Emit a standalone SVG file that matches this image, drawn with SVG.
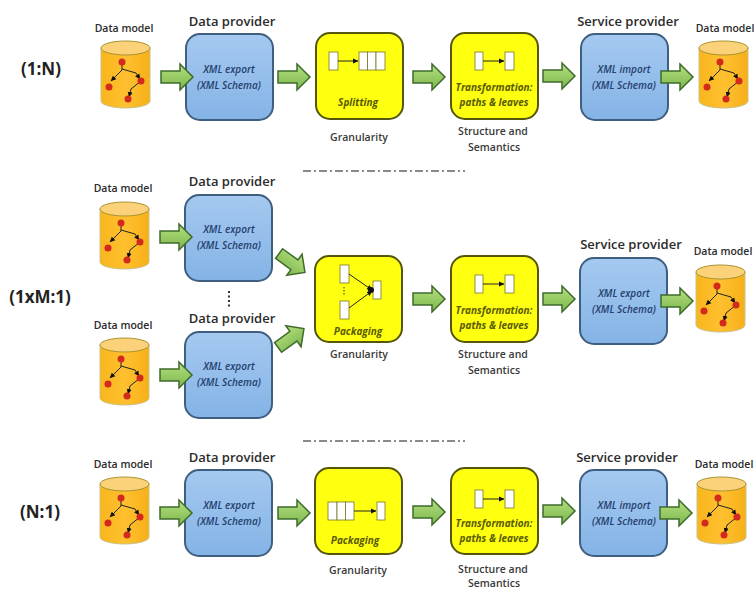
<svg xmlns="http://www.w3.org/2000/svg" xmlns:xlink="http://www.w3.org/1999/xlink" width="754" height="590" viewBox="0 0 754 590">
<style>
text{font-family:"Open Sans","Liberation Sans",sans-serif;text-anchor:middle;fill:#2b2b2b}
.h{font-size:13px;font-weight:600}
.m{font-size:10.500px;font-weight:600}
.g{font-size:10.500px;font-weight:600;fill:#3a3a3a}
.r{font-size:17px;font-weight:700;fill:#222}
.b{font-size:10px;font-style:italic;font-weight:600;fill:#24406e}
.y{font-size:10px;font-style:italic;font-weight:700;fill:#5a5a00}
.sep{stroke:#666;stroke-width:1.500;stroke-dasharray:8 3 2 3;fill:none}
.w{fill:#fff;stroke:#77772a;stroke-width:.8}
.l{stroke:#222;stroke-width:1;fill:none}
.t{stroke:#222;stroke-width:1;fill:none}
</style>
<defs>
<linearGradient id="gb" x1="0" y1="0" x2="0" y2="1"><stop offset="0" stop-color="#a5c9f0"/><stop offset="1" stop-color="#84b3e6"/></linearGradient>
<linearGradient id="gg" x1="0" y1="0" x2="0" y2="1"><stop offset="0" stop-color="#b4e080"/><stop offset="1" stop-color="#7cb64c"/></linearGradient>
<linearGradient id="gc" x1="0" y1="0" x2="1" y2="0"><stop offset="0" stop-color="#f8b61c"/><stop offset=".5" stop-color="#ffc030"/><stop offset="1" stop-color="#f6b018"/></linearGradient>
<marker id="tip" markerWidth="6" markerHeight="6" refX="5" refY="3" orient="auto"><path d="M0 0.500L5.500 3L0 5.500Z" fill="#111"/></marker>
<symbol id="cyl" width="50" height="68" viewBox="0 0 50 68" overflow="visible">
<path d="M0 7V60A24.500 7 0 0 0 49 60V7Z" fill="url(#gc)" stroke="#c9c28a" stroke-width="1"/>
<ellipse cx="24.500" cy="7" rx="24.500" ry="7" fill="#fbd27a" stroke="#a8932f" stroke-width="1"/>
<path class="t" d="M21 21V29L10 40" marker-end="url(#tip)"/>
<path class="t" d="M21 28L35 32L39 38" marker-end="url(#tip)"/>
<path class="t" d="M40 40L30 48L28 56" marker-end="url(#tip)"/>
<circle cx="21" cy="21" r="3.500" fill="#d42a1e"/><circle cx="8" cy="46" r="3.500" fill="#d42a1e"/><circle cx="40" cy="40" r="3.500" fill="#d42a1e"/><circle cx="27" cy="58" r="3.500" fill="#d42a1e"/>
</symbol>
<symbol id="blue" width="87" height="86" viewBox="0 0 87 86" overflow="visible"><rect width="87" height="86" rx="14" fill="url(#gb)" stroke="#3f5f80" stroke-width="2"/></symbol>
<symbol id="yel" width="87" height="86" viewBox="0 0 87 86" overflow="visible"><rect width="87" height="86" rx="14" fill="#ffff10" stroke="#55550c" stroke-width="2"/></symbol>
<path id="arr" d="M0 7H19V0L32 13L19 26V19H0Z" fill="url(#gg)" stroke="#3f6b2c" stroke-width="1.500"/>
</defs>

<g id="separators">
<path class="sep" d="M303 171H465"/>
<path class="sep" d="M303 441H465"/>
<path d="M229 291V307" stroke="#333" stroke-width="2" stroke-dasharray="2 2.500" fill="none"/>
</g>

<g id="row-labels">
<text class="r" x="41" y="75">(1:N)</text>
<text class="r" x="40" y="303">(1xM:1)</text>
<text class="r" x="40" y="518">(N:1)</text>
</g>

<g id="r1-model-a"><text class="m" x="124" y="32">Data model</text><use href="#cyl" x="101" y="41"/></g>
<g id="r1-provider"><text class="h" x="232" y="26">Data provider</text><use href="#blue" x="186" y="34"/><text class="b" x="229" y="73">XML export</text><text class="b" x="229" y="89">(XML Schema)</text></g>
<g id="r1-split"><use href="#yel" x="316" y="33"/>
<rect class="w" x="329" y="52" width="9" height="18"/><rect class="w" x="359" y="52" width="8.500" height="18"/><rect class="w" x="367.500" y="52" width="8.500" height="18"/><rect class="w" x="376" y="52" width="9" height="18"/>
<path class="l" d="M338 61H358" marker-end="url(#tip)"/>
<text class="y" x="358" y="106">Splitting</text><text class="g" x="359" y="141">Granularity</text></g>
<g id="r1-trans"><use href="#yel" x="451" y="33"/>
<rect class="w" x="475" y="52" width="8" height="18"/><rect class="w" x="505" y="52" width="9" height="18"/><path class="l" d="M483 61H504" marker-end="url(#tip)"/>
<text class="y" x="494" y="91">Transformation:</text><text class="y" x="494" y="106">paths &amp; leaves</text>
<text class="g" x="493" y="135">Structure and</text><text class="g" x="494" y="151">Semantics</text></g>
<g id="r1-service"><text class="h" x="628" y="26">Service provider</text><use href="#blue" x="581" y="34"/><text class="b" x="624" y="73">XML import</text><text class="b" x="624" y="89">(XML Schema)</text></g>
<g id="r1-model-b"><text class="m" x="725" y="32">Data model</text><use href="#cyl" x="699" y="41"/></g>

<g id="r2-model-a"><text class="m" x="123" y="192">Data model</text><use href="#cyl" x="100" y="202"/></g>
<g id="r2-provider-a"><text class="h" x="232" y="186">Data provider</text><use href="#blue" x="185" y="195"/><text class="b" x="229" y="233">XML export</text><text class="b" x="229" y="249">(XML Schema)</text></g>
<g id="r2-model-b"><text class="m" x="123" y="329">Data model</text><use href="#cyl" x="100" y="338"/></g>
<g id="r2-provider-b"><text class="h" x="232" y="323">Data provider</text><use href="#blue" x="185" y="332"/><text class="b" x="229" y="370">XML export</text><text class="b" x="229" y="386">(XML Schema)</text></g>
<g id="r2-pack"><use href="#yel" x="315" y="256"/>
<rect class="w" x="340" y="265" width="9" height="18"/><rect class="w" x="340" y="301" width="9" height="18"/><rect class="w" x="373" y="281" width="8" height="18"/>
<path class="l" d="M349 274L372 290" marker-end="url(#tip)"/><path class="l" d="M349 308L372 291" marker-end="url(#tip)"/>
<circle cx="371" cy="290" r="3" fill="#111"/>
<path d="M344 287V296" stroke="#77772a" stroke-width="1.500" stroke-dasharray="1.500 1.500" fill="none"/>
<text class="y" x="358" y="335">Packaging</text><text class="g" x="359" y="358">Granularity</text></g>
<g id="r2-trans"><use href="#yel" x="451" y="256"/>
<rect class="w" x="475" y="275" width="8" height="18"/><rect class="w" x="505" y="275" width="9" height="18"/><path class="l" d="M483 284H504" marker-end="url(#tip)"/>
<text class="y" x="494" y="314">Transformation:</text><text class="y" x="494" y="329">paths &amp; leaves</text>
<text class="g" x="493" y="358">Structure and</text><text class="g" x="494" y="374">Semantics</text></g>
<g id="r2-service"><text class="h" x="631" y="249">Service provider</text><use href="#blue" x="580" y="258"/><text class="b" x="624" y="297">XML export</text><text class="b" x="624" y="313">(XML Schema)</text></g>
<g id="r2-model-c"><text class="m" x="723" y="255">Data model</text><use href="#cyl" x="696" y="265"/></g>

<g id="r3-model-a"><text class="m" x="123" y="468">Data model</text><use href="#cyl" x="100" y="477"/></g>
<g id="r3-provider"><text class="h" x="232" y="462">Data provider</text><use href="#blue" x="185" y="470"/><text class="b" x="229" y="509">XML export</text><text class="b" x="229" y="525">(XML Schema)</text></g>
<g id="r3-pack"><use href="#yel" x="315" y="468"/>
<rect class="w" x="328" y="502" width="9" height="18"/><rect class="w" x="337" y="502" width="8.500" height="18"/><rect class="w" x="345.500" y="502" width="8.500" height="18"/><rect class="w" x="377" y="502" width="8" height="18"/>
<path class="l" d="M354 511H376" marker-end="url(#tip)"/>
<text class="y" x="355" y="544">Packaging</text><text class="g" x="358" y="574">Granularity</text></g>
<g id="r3-trans"><use href="#yel" x="451" y="468"/>
<rect class="w" x="475" y="490" width="8" height="18"/><rect class="w" x="505" y="490" width="9" height="18"/><path class="l" d="M483 499H504" marker-end="url(#tip)"/>
<text class="y" x="494" y="527">Transformation:</text><text class="y" x="494" y="542">paths &amp; leaves</text>
<text class="g" x="493" y="573">Structure and</text><text class="g" x="494" y="587">Semantics</text></g>
<g id="r3-service"><text class="h" x="627" y="462">Service provider</text><use href="#blue" x="580" y="470"/><text class="b" x="624" y="509">XML import</text><text class="b" x="624" y="525">(XML Schema)</text></g>
<g id="r3-model-b"><text class="m" x="724" y="468">Data model</text><use href="#cyl" x="697" y="477"/></g>

<g id="connectors">
<use href="#arr" x="161" y="64"/><use href="#arr" x="278" y="64"/><use href="#arr" x="413" y="64"/><use href="#arr" x="543" y="63"/><use href="#arr" x="661" y="64"/>
<use href="#arr" x="160" y="224"/><use href="#arr" x="160" y="362"/>
<use href="#arr" transform="translate(276 250) rotate(36 16 13)"/>
<use href="#arr" transform="translate(275 325) rotate(-36 16 13)"/>
<use href="#arr" x="413" y="286"/><use href="#arr" x="543" y="286"/><use href="#arr" x="661" y="288"/>
<use href="#arr" x="160" y="500"/><use href="#arr" x="278" y="500"/><use href="#arr" x="413" y="499"/><use href="#arr" x="543" y="498"/><use href="#arr" x="660" y="500"/>
</g>
</svg>
